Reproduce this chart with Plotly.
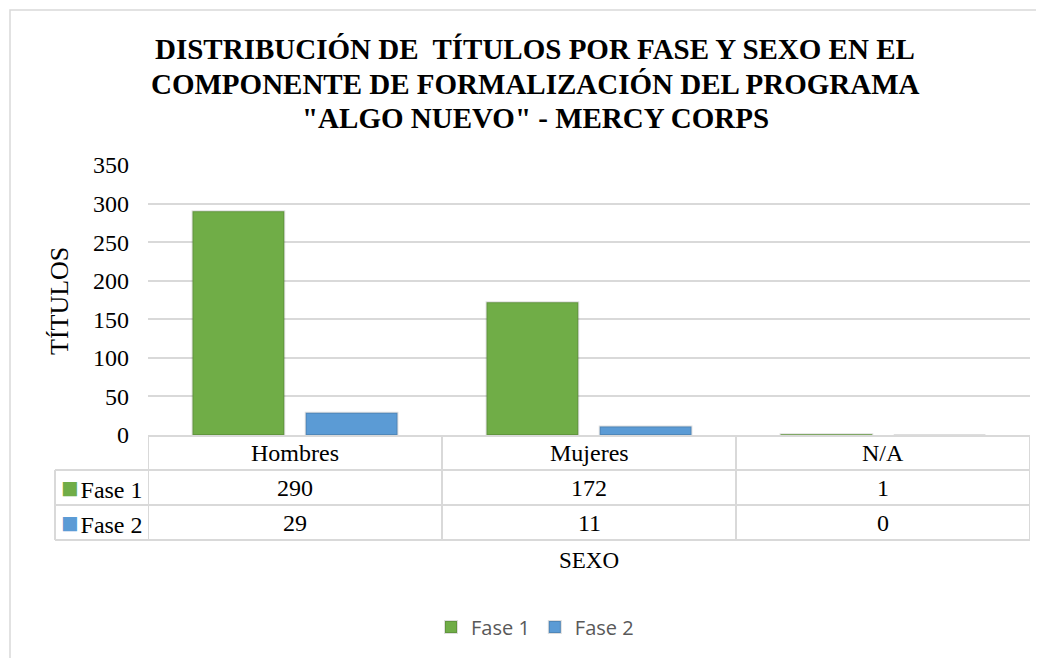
import plotly.graph_objects as go

# data
categories = ["Hombres", "Mujeres", "N/A"]
fase1 = [290, 172, 1]
fase2 = [29, 11, 0]
series_names = ["Fase 1", "Fase 2"]
y_ticks = [0, 50, 100, 150, 200, 250, 300, 350]
title_lines = [
    "DISTRIBUCIÓN DE  TÍTULOS POR FASE Y SEXO EN EL",
    "COMPONENTE DE FORMALIZACIÓN DEL PROGRAMA",
    "\"ALGO NUEVO\" - MERCY CORPS",
]

GREEN = "#70ad47"
BLUE = "#5b9bd5"
GRID = "#d9d9d9"
SERIF = "Liberation Serif, Times New Roman, serif"

# the page body adds an 8px margin, so work in figure pixels = screen pixels - 8
OFF = 8
W, H = 1044 - OFF, 658 - OFF
L, R, T, B = 148 - OFF, 1030 - OFF, 165 - OFF, 435 - OFF


def px_x(p):
    return (p - OFF - L) / (R - L)


def px_y(p):
    return (B - (p - OFF)) / (B - T)


fig = go.Figure()
for name, values, color in [(series_names[0], fase1, GREEN), (series_names[1], fase2, BLUE)]:
    fig.add_trace(go.Bar(
        name=name, x=categories, y=values,
        marker=dict(color=color, line=dict(color="rgba(0,0,0,0.13)", width=2)),
    ))

row_edges = [px_y(470), px_y(505), px_y(540)]
shapes = []
# outer chart border
shapes.append(dict(type="rect", xref="paper", yref="paper", x0=px_x(10), x1=px_x(1070),
                   y0=px_y(700), y1=px_y(10), line=dict(color=GRID, width=1.5)))
# data table grid
for y in row_edges:
    shapes.append(dict(type="line", xref="paper", yref="paper", x0=px_x(55), x1=1,
                       y0=y, y1=y, line=dict(color=GRID, width=2)))
shapes.append(dict(type="line", xref="paper", yref="paper", x0=px_x(55), x1=px_x(55),
                   y0=row_edges[0], y1=row_edges[2], line=dict(color=GRID, width=2)))
for i in range(len(categories) + 1):
    shapes.append(dict(type="line", xref="x", yref="paper", x0=i - 0.5, x1=i - 0.5,
                       y0=0, y1=row_edges[2], line=dict(color=GRID, width=2)))

annotations = []
cell_font = dict(family=SERIF, size=24, color="#000000")


def note(**kw):
    base = dict(showarrow=False, xanchor="center", yanchor="middle")
    base.update(kw)
    annotations.append(base)


for i, cat in enumerate(categories):
    note(xref="x", yref="paper", x=cat, y=px_y(453), text=cat, font=cell_font)
    note(xref="x", yref="paper", x=cat, y=px_y(488), text=str(fase1[i]), font=cell_font)
    note(xref="x", yref="paper", x=cat, y=px_y(523), text=str(fase2[i]), font=cell_font)
for name, color, yy in [(series_names[0], GREEN, 488), (series_names[1], BLUE, 523)]:
    note(xref="paper", yref="paper", x=px_x(59), y=px_y(yy), xanchor="left",
         text=f'<span style="color:{color};font-size:29px">■</span><span style="font-size:8px"> </span>{name}',
         font=cell_font)

for line, yy in zip(title_lines, [49, 84, 118]):
    note(xref="paper", yref="paper", x=px_x(535), y=px_y(yy), text=line,
         font=dict(family=SERIF, size=29, color="#000000", weight=700))
note(xref="paper", yref="paper", x=px_x(59), y=px_y(301), text="TÍTULOS", textangle=-90,
     font=dict(family=SERIF, size=26, color="#000000"))
note(xref="paper", yref="paper", x=0.5, y=px_y(560), text="SEXO",
     font=dict(family=SERIF, size=23, color="#000000"))

fig.update_layout(
    width=W, height=H,
    margin=dict(l=L, r=W - R, t=T, b=H - B),
    paper_bgcolor="white", plot_bgcolor="white",
    barmode="group", bargap=0.23, bargroupgap=0.19,
    showlegend=True,
    legend=dict(orientation="h", x=px_x(535), xanchor="center", y=px_y(627), yanchor="middle",
                font=dict(family="Open Sans", size=20, color="#595959")),
    xaxis=dict(showticklabels=False, showline=True, linecolor=GRID, linewidth=2,
               showgrid=False, range=[-0.5, 2.5]),
    yaxis=dict(range=[0, 350], tickvals=y_ticks, showgrid=True, gridcolor=GRID, gridwidth=2,
               zeroline=False, showline=False, ticklabelstandoff=18,
               tickfont=dict(family=SERIF, size=24, color="#000000")),
    shapes=shapes, annotations=annotations,
)

fig.write_html("out.html")
